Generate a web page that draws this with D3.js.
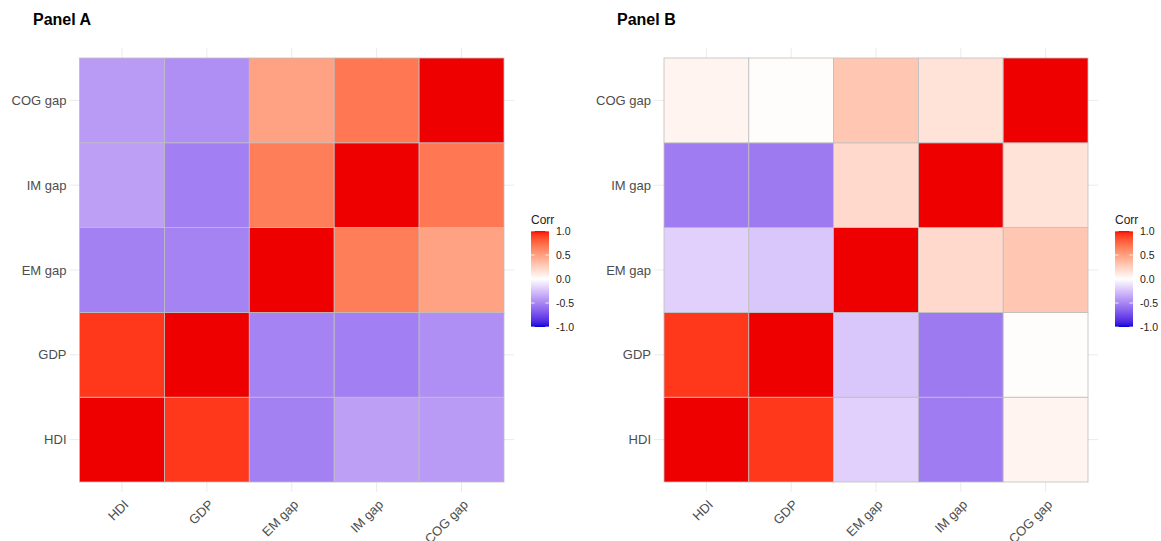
<!DOCTYPE html>
<html>
<head>
<meta charset="utf-8">
<script src="https://cdn.jsdelivr.net/npm/d3@7"></script>
<style>
  body { margin: 0; background: #fff; }
  text { font-family: "Liberation Sans", Arial, sans-serif; }
</style>
</head>
<body>
<div id="chart"></div>
<script>
// variables, bottom-to-top on y and left-to-right on x
const vars = ["HDI", "GDP", "EM gap", "IM gap", "COG gap"];

// correlation matrices, rows/cols in the order of vars
const panelA = [
  [1.00, 0.92, -0.52, -0.39, -0.41],
  [0.92, 1.00, -0.51, -0.53, -0.46],
  [-0.52, -0.51, 1.00, 0.66, 0.49],
  [-0.39, -0.53, 0.66, 1.00, 0.69],
  [-0.41, -0.46, 0.49, 0.69, 1.00]
];

const panelB = [
  [1.00, 0.92, -0.19, -0.54, 0.06],
  [0.92, 1.00, -0.23, -0.55, 0.01],
  [-0.19, -0.23, 1.00, 0.20, 0.30],
  [-0.54, -0.55, 0.20, 1.00, 0.15],
  [0.06, 0.01, 0.30, 0.15, 1.00]
];

const legendTicks = [1.0, 0.5, 0.0, -0.5, -1.0];

const width = 1161, height = 541;

const svg = d3.select("#chart").append("svg")
  .attr("width", width)
  .attr("height", height);

// gradient2 blue - white - red in Lab; the very ends come out darker in the picture
const toRed = d3.interpolateLab("#FFFFFF", "#FF0000");
const toBlue = d3.interpolateLab("#FFFFFF", "#0000E0");
function color(v) {
  if (v > 0.95) return d3.interpolateLab(toRed(0.95), "#EE0000")((v - 0.95) / 0.05);
  if (v >= 0) return toRed(v);
  if (v < -0.95) return d3.interpolateLab(toBlue(0.95), "#0000CC")((-v - 0.95) / 0.05);
  return toBlue(-v);
}

const defs = svg.append("defs");
const grad = defs.append("linearGradient")
  .attr("id", "corr-gradient")
  .attr("x1", 0).attr("y1", 0).attr("x2", 0).attr("y2", 1);
grad.selectAll("stop")
  .data(d3.range(0, 41).map(i => 1 - i / 20))
  .join("stop")
  .attr("offset", (d, i) => `${i * 2.5}%`)
  .attr("stop-color", d => color(d));

function drawPanel(matrix, opts) {
  const g = svg.append("g");

  const x = d3.scaleBand().domain(vars).range([opts.left, opts.right]);
  const y = d3.scaleBand().domain(vars).range([opts.bottom, opts.top]);
  const pad = 10;

  // grid lines (theme_minimal)
  g.append("g").selectAll("line")
    .data(vars)
    .join("line")
    .attr("x1", d => x(d) + x.bandwidth() / 2)
    .attr("x2", d => x(d) + x.bandwidth() / 2)
    .attr("y1", opts.top - pad)
    .attr("y2", opts.bottom + pad)
    .attr("stroke", "#EBEBEB")
    .attr("stroke-width", 1);

  g.append("g").selectAll("line")
    .data(vars)
    .join("line")
    .attr("y1", d => y(d) + y.bandwidth() / 2)
    .attr("y2", d => y(d) + y.bandwidth() / 2)
    .attr("x1", opts.left - pad)
    .attr("x2", opts.right + pad)
    .attr("stroke", "#EBEBEB")
    .attr("stroke-width", 1);

  const cells = [];
  matrix.forEach((row, i) => row.forEach((v, j) => cells.push({ row: vars[i], col: vars[j], value: v })));

  g.append("g").selectAll("rect")
    .data(cells)
    .join("rect")
    .attr("x", d => x(d.col))
    .attr("y", d => y(d.row))
    .attr("width", x.bandwidth())
    .attr("height", y.bandwidth())
    .attr("fill", d => color(d.value))
    .attr("stroke", "#BEBEBE")
    .attr("stroke-width", 0.8);

  // y labels
  g.append("g").selectAll("text")
    .data(vars)
    .join("text")
    .attr("x", opts.left - pad - 3)
    .attr("y", d => y(d) + y.bandwidth() / 2)
    .attr("dy", "0.35em")
    .attr("text-anchor", "end")
    .style("font-size", "13px")
    .style("fill", "#4D4D4D")
    .text(d => d);

  // x labels, rotated 45
  g.append("g").selectAll("text")
    .data(vars)
    .join("text")
    .attr("transform", d => `translate(${x(d) + x.bandwidth() / 2 + 1}, ${opts.bottom + pad + 7}) rotate(-45)`)
    .attr("text-anchor", "end")
    .attr("dy", "0.7em")
    .style("font-size", "13px")
    .style("fill", "#4D4D4D")
    .text(d => d);

  // title
  svg.append("text")
    .attr("x", opts.titleX)
    .attr("y", 25)
    .style("font-size", "16px")
    .style("font-weight", "bold")
    .style("fill", "#000")
    .text(opts.title);

  renderLegend(opts.legendX);
}

function renderLegend(lx) {
  const top = 231, barH = 96, barW = 18;
  const lg = svg.append("g").attr("class", "legend");

  lg.append("text")
    .attr("x", lx)
    .attr("y", 224)
    .style("font-size", "12px")
    .style("fill", "#222")
    .text("Corr");

  lg.append("rect")
    .attr("x", lx)
    .attr("y", top)
    .attr("width", barW)
    .attr("height", barH)
    .style("fill", "url(#corr-gradient)");

  const ly = d3.scaleLinear().domain([1, -1]).range([top, top + barH]);

  lg.selectAll(".tickl")
    .data(legendTicks)
    .join("line")
    .attr("x1", lx).attr("x2", lx + 3.6)
    .attr("y1", d => ly(d)).attr("y2", d => ly(d))
    .attr("stroke", "#fff").attr("stroke-width", 0.8);

  lg.selectAll(".tickr")
    .data(legendTicks)
    .join("line")
    .attr("x1", lx + barW - 3.6).attr("x2", lx + barW)
    .attr("y1", d => ly(d)).attr("y2", d => ly(d))
    .attr("stroke", "#fff").attr("stroke-width", 0.8);

  lg.selectAll("text.lab")
    .data(legendTicks)
    .join("text")
    .attr("class", "lab")
    .attr("x", lx + barW + 7)
    .attr("y", d => ly(d))
    .attr("dy", "0.35em")
    .style("font-size", "10.5px")
    .style("fill", "#222")
    .text(d => d.toFixed(1));
}

drawPanel(panelA, { left: 79.5, right: 504, top: 58, bottom: 482, title: "Panel A", titleX: 33, legendX: 531 });
drawPanel(panelB, { left: 664, right: 1088, top: 58, bottom: 482, title: "Panel B", titleX: 617, legendX: 1115 });
</script>
</body>
</html>
